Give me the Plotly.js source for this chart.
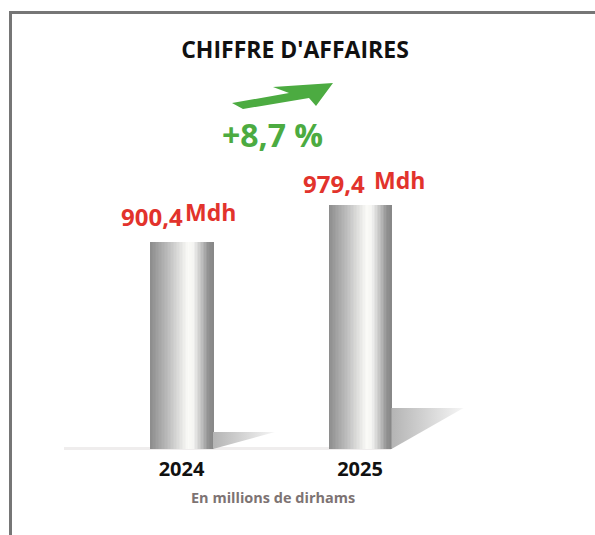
<!DOCTYPE html>
<html>
<head>
<meta charset="utf-8">
<script src="https://cdn.plot.ly/plotly-3.0.1.min.js"></script>
<style>html,body{margin:0;padding:0;background:#fff}#chart{width:595px;height:535px}</style>
</head>
<body>
<div id="chart"></div>
<script>
// ---- data ----
const years = [2024, 2025];
const revenue = [900.4, 979.4];           // millions de dirhams
const unitLabel = "Mdh";
const growthLabel = "+8,7 %";
const chartTitle = "CHIFFRE D'AFFAIRES";
const subtitle = "En millions de dirhams";

// ---- geometry helpers ----
const W = 595, H = 535;
const ml = 10, mr = 0, mt = 12, mb = 86;
const pw = W - ml - mr, ph = H - mt - mb;
const pxPerX = 178.5;                     // pixels per year
const xLeft = 2024 - 171.5 / pxPerX;
const xRange = [xLeft, xLeft + pw / pxPerX];
const pxPerY = 0.4684;
const yMin = 458.5;
const yRange = [yMin, yMin + ph / pxPerY];
const px = v => (v - ml) / pw;
const py = v => 1 - (v - mt) / ph;
const barW = 63 / pxPerX;

const fmt = v => v.toFixed(1).replace('.', ',');

// bar gradient (horizontal cylinder look)
const stops = [[0,[140,140,140]],[0.3,[192,192,192]],[0.6,[250,250,247]],[0.68,[245,245,243]],[0.82,[190,190,190]],[0.92,[145,145,145]],[1,[135,135,135]]];
function grad(t){
  for(let i=1;i<stops.length;i++){
    if(t<=stops[i][0]){
      const a=stops[i-1],b=stops[i];const f=(t-a[0])/(b[0]-a[0]);
      const c=a[1].map((v,k)=>Math.round(v+(b[1][k]-v)*f));
      return `rgb(${c.join(',')})`;
    }
  }
  return 'rgb(135,135,135)';
}

const traces = [];
// shadows to the right of each bar
const shadowPx = [{len:62,h:17},{len:72,h:41}];
years.forEach((yr,i)=>{
  const x0 = yr + barW/2, x1 = x0 + shadowPx[i].len/pxPerX;
  const yTop = yMin + shadowPx[i].h/pxPerY;
  traces.push({type:'scatter',mode:'lines',x:[x0,x1,x0,x0],y:[yTop,yTop,yMin,yTop],
    fill:'toself',line:{width:0,color:'rgba(0,0,0,0)'},
    fillgradient:{type:'horizontal',start:x0,stop:x1,colorscale:[[0,'#b4b4b4'],[1,'#f6f6f6']]},
    hoverinfo:'skip',showlegend:false});
});
// bars as thin slices for a gradient
const N = 42;
for(let s=0;s<N;s++){
  traces.push({type:'bar',x:years,y:revenue,width:barW/N*1.6,offset:-barW/2+s*barW/N,
    marker:{color:grad((s+0.5)/N),line:{width:0}},hoverinfo:'skip',showlegend:false});
}

const valueShift = [{dx:3.5,dy:26,mx:1.5,my:30},{dx:7,dy:22,mx:12,my:25}];
const annotations = [];
years.forEach((yr,i)=>{
  annotations.push({x:yr,y:revenue[i],xref:'x',yref:'y',text:fmt(revenue[i]),showarrow:false,
    xanchor:'right',yanchor:'middle',xshift:valueShift[i].dx,yshift:valueShift[i].dy,
    font:{family:'Open Sans',size:24,color:'#e2332c',weight:'bold'}});
  annotations.push({x:yr,y:revenue[i],xref:'x',yref:'y',text:unitLabel,showarrow:false,
    xanchor:'left',yanchor:'middle',xshift:valueShift[i].mx,yshift:valueShift[i].my,
    font:{family:'Open Sans',size:23,color:'#e2332c',weight:'bold'}});
});
annotations.push({xref:'paper',yref:'paper',x:px(272),y:py(134),text:growthLabel,showarrow:false,
  xanchor:'center',yanchor:'middle',font:{family:'Open Sans',size:32,color:'#4cab41',weight:'bold'}});
annotations.push({xref:'paper',yref:'paper',x:px(273),y:py(497),text:subtitle,showarrow:false,
  xanchor:'center',yanchor:'middle',font:{family:'Open Sans',size:14.5,color:'#7d7373',weight:'bold'}});

const arrowPts = [[232,103],[289,93],[273,87],[333,83],[316,106],[309,98],[243,109]];
const arrowPath = 'M ' + arrowPts.map(p=>px(p[0])+','+py(p[1])).join(' L ') + ' Z';

const shapes = [
  {type:'line',xref:'paper',yref:'paper',x0:px(10.5),x1:px(10.5),y0:py(11),y1:py(535),line:{color:'#767676',width:3}},
  {type:'line',xref:'paper',yref:'paper',x0:px(9),x1:px(596),y0:py(12.5),y1:py(12.5),line:{color:'#767676',width:3}},
  {type:'line',xref:'paper',yref:'paper',x0:px(64),x1:px(391),y0:py(448.5),y1:py(448.5),layer:'below',line:{color:'#efeded',width:3}},
  {type:'path',xref:'paper',yref:'paper',path:arrowPath,fillcolor:'#4cab41',line:{width:0}}
];

const layout = {
  width:W,height:H,margin:{l:ml,r:mr,t:mt,b:mb,pad:0},
  paper_bgcolor:'#fff',plot_bgcolor:'rgba(0,0,0,0)',barmode:'overlay',bargap:0,
  title:{text:chartTitle,x:295/595,xref:'container',xanchor:'center',y:1-50/535,yref:'container',yanchor:'middle',
    font:{family:'Open Sans',size:23,color:'#111',weight:'bold'}},
  xaxis:{range:xRange,tickvals:years,ticktext:years.map(String),showgrid:false,zeroline:false,showline:false,ticks:'',
    tickfont:{family:'Open Sans',size:20,color:'#111',weight:'bold'},ticklabelstandoff:6,fixedrange:true},
  yaxis:{range:yRange,visible:false,showgrid:false,zeroline:false,fixedrange:true},
  showlegend:false,annotations:annotations,shapes:shapes
};
Plotly.newPlot('chart',traces,layout,{displayModeBar:false,staticPlot:true});
</script>
</body>
</html>
